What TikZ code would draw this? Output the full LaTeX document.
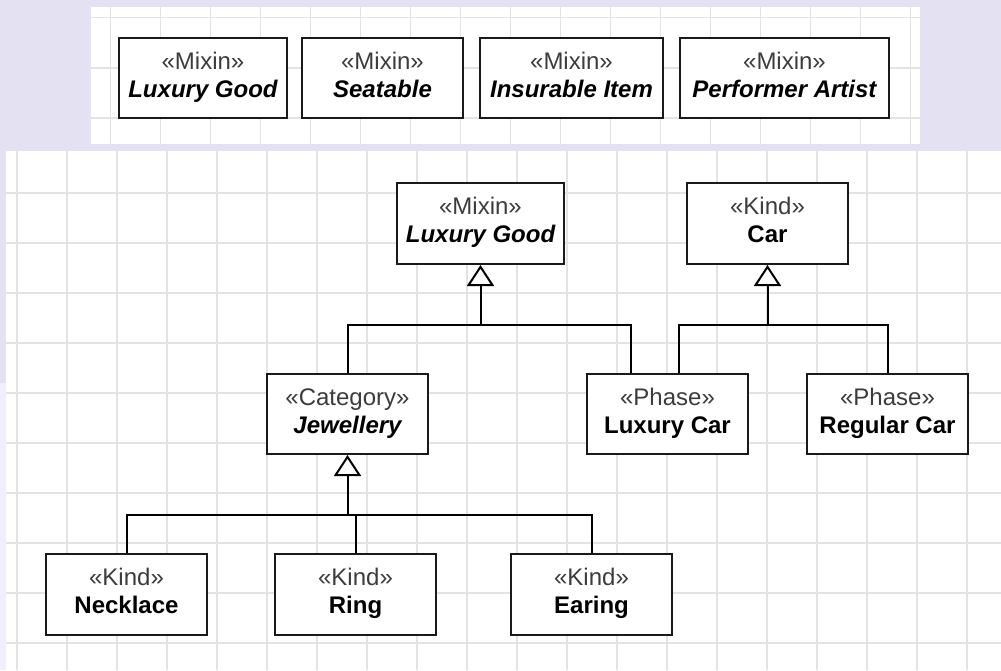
\documentclass[tikz,border=0pt]{standalone}
\usepackage{fontspec}
\setmainfont{Liberation Sans}
\usetikzlibrary{arrows.meta,calc}

\definecolor{pagebg}{HTML}{E4E1F2}
\definecolor{pagebglight}{HTML}{F1EFFC}
\definecolor{gridline}{HTML}{E3E3E3}
\definecolor{ink}{HTML}{1A1A1A}

% \umlclass{name}{x1}{y1}{x2}{y2}{stereotype}{class name}{name style}
\newcommand{\umlclass}[8]{%
  \node[umlbox, minimum width={#4-#2}, minimum height={#5-#3}] (#1) at ({(#2+#4)/2},{(#3+#5)/2}) {};
  \node[stereo] (#1-st) at ({(#2+#4)/2},{#3+31}) {#6};
  \node[#8] (#1-nm) at ({(#2+#4)/2},{#3+59}) {#7};
}

\begin{document}
\begin{tikzpicture}[x=1pt,y=-1pt,
  umlbox/.style={draw=ink, line width=2pt, fill=white, inner sep=0pt, rectangle},
  stereo/.style={anchor=base, inner sep=0pt, font=\fontsize{24}{28}\selectfont, text=ink!85},
  cname/.style={anchor=base, inner sep=0pt, font=\fontsize{24}{28}\selectfont\bfseries, text=black},
  abstractname/.style={anchor=base, inner sep=0pt, font=\fontsize{24}{28}\selectfont\bfseries\itshape, text=black},
  conn/.style={draw=black, line width=2pt},
  gen/.style={conn, -{Triangle[open, length=21pt, width=27pt, fill=white]}},
  gridl/.style={draw=gridline, line width=1.3pt}
]
\useasboundingbox (0,0) rectangle (1001,670);

% page background and the two drawing sheets
\fill[pagebg] (0,0) rectangle (1001,670);
\fill[pagebglight] (0,383) rectangle (6,670);
\fill[white] (91,7) rectangle (920,144);
\fill[white] (6,151) rectangle (1001,670);

% grid of the upper sheet
\foreach \gx in {110.5,160.5,...,910.5} \draw[gridl] (\gx,7) -- (\gx,144);
\foreach \gy in {17.5,68,118} \draw[gridl] (91,\gy) -- (920,\gy);

% grid of the lower sheet
\foreach \gx in {17,67,...,967} \draw[gridl] (\gx,151) -- (\gx,670);
\foreach \gy in {193,243,...,643} \draw[gridl] (6,\gy) -- (1001,\gy);

% mixins palette
\umlclass{pLuxury}{119}{38}{287}{118}{«Mixin»}{Luxury Good}{abstractname}
\umlclass{pSeat}{302}{38}{463}{118}{«Mixin»}{Seatable}{abstractname}
\umlclass{pInsur}{480}{38}{663}{118}{«Mixin»}{Insurable Item}{abstractname}
\umlclass{pPerf}{680}{38}{889}{118}{«Mixin»}{Performer Artist}{abstractname}

% taxonomy
\umlclass{lg}{397}{183}{564}{264}{«Mixin»}{Luxury Good}{abstractname}
\umlclass{car}{687}{183}{848}{264}{«Kind»}{Car}{cname}
\umlclass{jewel}{267}{374}{428}{454}{«Category»}{Jewellery}{abstractname}
\umlclass{luxcar}{587}{374}{748}{454}{«Phase»}{Luxury Car}{cname}
\umlclass{regcar}{807}{374}{968}{454}{«Phase»}{Regular Car}{cname}
\umlclass{necklace}{46}{554}{207}{635}{«Kind»}{Necklace}{cname}
\umlclass{ring}{275}{554}{436}{635}{«Kind»}{Ring}{cname}
\umlclass{earing}{511}{554}{672}{635}{«Kind»}{Earing}{cname}

% generalization junctions
\coordinate (lgbar) at ($(lg.south)+(0,60)$);
\coordinate (carbar) at ($(car.south)+(0,60)$);
\coordinate (jbar) at ($(jewel.south)+(0,60)$);

% Luxury Good specializations
\draw[conn] (jewel.north) |- (lgbar);
\draw[conn] ($(luxcar.north)+(-36.5,0)$) |- (lgbar);
\draw[gen] (lgbar) -- (lg.south);

% Car phases
\draw[conn] ($(luxcar.north)+(11.5,0)$) |- (carbar);
\draw[conn] (regcar.north) |- (carbar);
\draw[gen] (carbar) -- (car.south);

% Jewellery kinds
\draw[conn] (necklace.north) |- (jbar);
\draw[conn] (earing.north) |- (jbar);
\draw[conn] (ring.north) -- (ring.north |- jbar);
\draw[gen] (jbar) -- (jewel.south);
\end{tikzpicture}
\end{document}
